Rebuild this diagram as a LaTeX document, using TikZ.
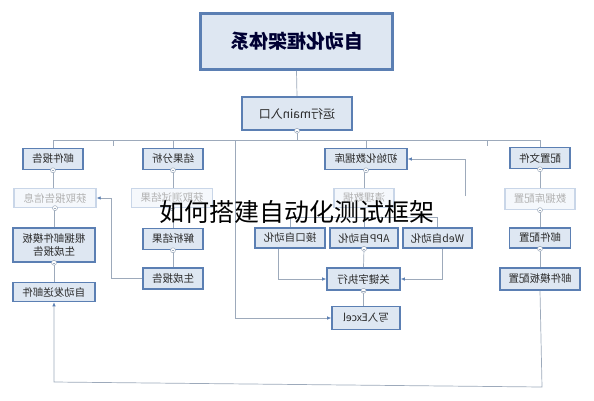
\documentclass[tikz,border=0pt]{standalone}
\usepackage{fontspec}
\usepackage{graphicx}
\setmainfont{Noto Sans CJK SC}
\usetikzlibrary{arrows.meta}

\definecolor{boxblue}{HTML}{5B7FB3}
\definecolor{boxfill}{HTML}{DEE7F2}
\definecolor{fadeline}{HTML}{C9D6E8}
\definecolor{fadefill}{HTML}{F5F8FC}
\definecolor{linkgray}{HTML}{9DAABB}
\definecolor{txt}{HTML}{2B2B2B}
\newcommand{\flip}[1]{\scalebox{-1}[1]{#1}}

\begin{document}
\begin{tikzpicture}[x=1pt,y=-1pt,
    box/.style={draw=boxblue,line width=1.6pt,fill=boxfill,inner sep=0pt,
        minimum height=21pt,text=txt,font=\fontsize{10.5}{12}\selectfont},
    faded/.style={draw=fadeline,line width=1.2pt,fill=fadefill,inner sep=0pt,
        minimum height=19pt,text=black!30,font=\fontsize{10.5}{12}\selectfont},
    link/.style={draw=linkgray,line width=0.7pt},
    rel/.style={link,-{Latex[length=4pt,width=3.5pt,color=boxblue]}},
    fold/.style={circle,draw=linkgray,fill=white,line width=0.5pt,inner sep=0pt,
        minimum size=5pt,path picture={\draw[linkgray,line width=0.5pt]
        ([xshift=-1.4pt]path picture bounding box.center) --
        ([xshift=1.4pt]path picture bounding box.center);}}
  ]
  \fill[white] (0,0) rectangle (594,400);
  \useasboundingbox (0,0) rectangle (594,400);

  % top of the tree
  \node[box,line width=2.6pt,minimum width=192pt,minimum height=56pt,
    font=\fontsize{19}{22}\selectfont\bfseries,text=black!80!blue] (title) at (296.5,41.5) {\flip{自动化框架体系}};
  \node[box,minimum width=110pt,minimum height=33pt,font=\fontsize{12}{14}\selectfont] (main) at (297,113.5) {\flip{运行main入口}};
  \coordinate (bus) at (0,140);

  % first level
  \node[box,minimum width=60pt] (mailrep) at (53,159) {\flip{邮件报告}};
  \node[box,minimum width=60pt] (anal) at (173,159) {\flip{结果分析}};
  \node[box,minimum width=82pt] (initdb) at (366,159) {\flip{初始化数据库}};
  \node[box,minimum width=60pt] (conf) at (540,158) {\flip{配置文件}};

  % second level
  \node[faded,minimum width=82pt] (getinfo) at (55,198) {\flip{获取报告信息}};
  \node[faded,minimum width=81pt] (fadres) at (172,198) {\flip{获取测试结果}};
  \node[faded,minimum width=60pt] (fadedb) at (364,198) {\flip{清理数据}};
  \node[faded,minimum width=70pt,minimum height=21pt] (dbconf) at (540,199) {\flip{数据库配置}};

  % third level
  \node[box,minimum width=82pt,minimum height=34pt,align=center] (mailtpl) at (54,245) {\flip{\shortstack{根据邮件模板\\生成报告}}};
  \node[box,minimum width=60pt] (parse) at (173,239) {\flip{解析结果}};
  \node[box,minimum width=70pt,minimum height=20pt] (api) at (290,238) {\flip{接口自动化}};
  \node[box,minimum width=68pt,minimum height=20pt] (app) at (364,238) {\flip{APP自动化}};
  \node[box,minimum width=69pt,minimum height=20pt] (web) at (437.5,238) {\flip{Web自动化}};
  \node[box,minimum width=61pt,minimum height=20pt] (mailconf) at (540,238) {\flip{邮件配置}};

  % fourth level
  \node[box,minimum width=82pt,minimum height=19pt] (sendmail) at (54,292) {\flip{自动发送邮件}};
  \node[box,minimum width=60pt] (genrep) at (173,278.5) {\flip{生成报告}};
  \node[box,minimum width=73pt,minimum height=22pt] (kw) at (363.5,279) {\flip{关键字执行}};
  \node[box,minimum width=80pt,minimum height=22pt] (tplconf) at (540,279) {\flip{邮件模板配置}};
  \node[box,minimum width=68pt,minimum height=23pt] (excel) at (366,318) {\flip{写入Excel}};

  % tree lines
  \draw[link] (title.south) -- (main.north);
  \draw[link] (main.south) -- (main.south |- bus);
  \draw[link] (mailrep.north |- bus) -- (conf.north |- bus);
  \foreach \n in {mailrep,anal,initdb,conf}
    \draw[link] (\n.north) -- (\n.north |- bus);
  \draw[link] (113,140) -- (113,146);
  \draw[link] (487,140) -- (487,146);
  \draw[link] (mailrep.south) -- (getinfo.north -| mailrep.south);
  \draw[link] (getinfo.south -| mailtpl.north) -- (mailtpl.north);
  \draw[link] (mailtpl.south) -- (sendmail.north);
  \draw[link] (anal.south) -- (anal.south |- fadres.north);
  \draw[link] (fadres.south -| parse.north) -- (parse.north);
  \draw[link] (parse.south) -- (genrep.north);
  \draw[link] (initdb.south -| fadedb.north) -- (fadedb.north);
  \draw[link] (fadedb.south) -- ++(0,11);
  \draw[link] (api.north) -- ++(0,-10) -| (web.north);
  \draw[link] (app.north) -- ++(0,-10);
  \draw[link] (app.south) -- (kw.north);
  \draw[link] (kw.south) -- (excel.north -| kw.south);
  \draw[link] (conf.south) -- (dbconf.north);
  \draw[link] (dbconf.south) -- (mailconf.north);
  \draw[link] (mailconf.south) -- (tplconf.north);

  % relations
  \coordinate (dbend) at (465,196);
  \draw[rel] (genrep.west) -- ++(-31,0) |- (getinfo.east);
  \draw[rel] ([xshift=-12pt]api.south) |- (kw.west);
  \draw[rel] ([xshift=4.5pt]web.south) |- (kw.east);
  \draw[rel] (235,140) |- (excel.west);
  \draw[rel] (dbend) |- (initdb.east);
  \draw[rel] (tplconf.south) -- (542,387) -- (54,382) -- (sendmail.south);

  % fold markers
  \foreach \n in {main,mailrep,getinfo,mailtpl,anal,fadres,parse,initdb,app,kw,conf,dbconf,mailconf}
    \node[fold] (fold-\n) at (\n.south) {};

  \node[font=\fontsize{25}{25}\selectfont,text=black] (wm) at (297,212) {如何搭建自动化测试框架};
\end{tikzpicture}
\end{document}
